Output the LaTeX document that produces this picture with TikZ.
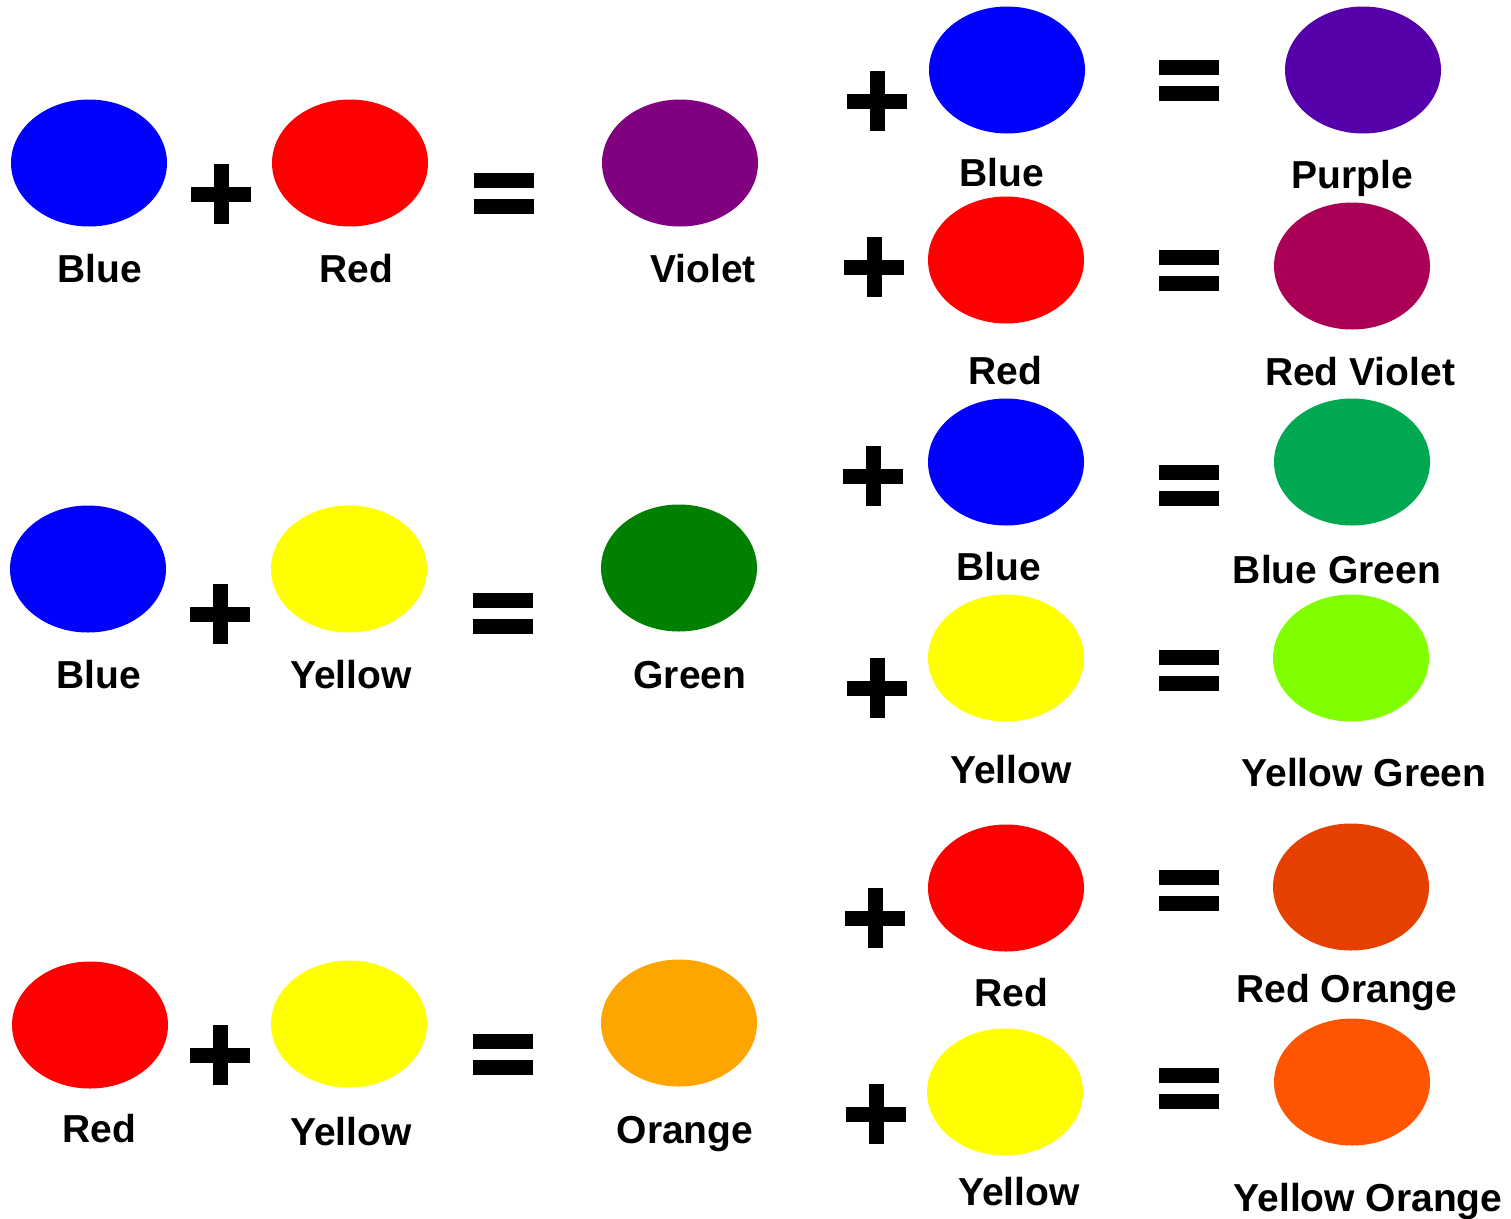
\documentclass[tikz,border=0pt]{standalone}
\usepackage{fontspec}
\setmainfont{Liberation Sans}
\usetikzlibrary{shapes.geometric}
\definecolor{cblue}{HTML}{0000FF}
\definecolor{cred}{HTML}{FF0000}
\definecolor{cyellow}{HTML}{FFFF00}
\definecolor{cviolet}{HTML}{800080}
\definecolor{cgreen}{HTML}{008000}
\definecolor{corange}{HTML}{FFA500}
\definecolor{cpurple}{HTML}{5500AA}
\definecolor{credviolet}{HTML}{AA0055}
\definecolor{cbluegreen}{HTML}{00A852}
\definecolor{cyellowgreen}{HTML}{80FF00}
\definecolor{credorange}{HTML}{E64000}
\definecolor{cyelloworange}{HTML}{FF5500}
\begin{document}
\begin{tikzpicture}[x=1pt,y=-1pt,
  blob/.style={ellipse, draw=none, inner sep=0pt, minimum width=156pt, minimum height=127pt},
  lbl/.style={anchor=base, inner sep=0pt, font=\fontsize{39}{47}\selectfont\bfseries},
  plussign/.pic={\fill[black] (-30,-7.5) rectangle (30,7.5); \fill[black] (-7.5,-30) rectangle (7.5,30);},
  eqsign/.pic={\fill[black] (-30,-20.5) rectangle (30,-5.5); \fill[black] (-30,5.5) rectangle (30,20.5);}
]
\useasboundingbox (0,0) rectangle (1511,1218);
% ---------- left column ----------
% row 1
\node[blob, fill=cblue] (a1) at (89,163) {};
\node[blob, fill=cred] (a2) at (350,163) {};
\node[blob, fill=cviolet] (a3) at (680,163) {};
\pic at (221,194) {plussign};
\pic at (504,193) {eqsign};
\node[lbl] (la1) at (100,282) {Blue};
\node[lbl] (la2) at (356,282) {Red};
\node[lbl] (la3) at (703,282) {Violet};
% row 2
\node[blob, fill=cblue] (b1) at (88,569) {};
\node[blob, fill=cyellow] (b2) at (349,569) {};
\node[blob, fill=cgreen] (b3) at (679,568) {};
\pic at (220,614) {plussign};
\pic at (503,613) {eqsign};
\node[lbl] (lb1) at (99,688) {Blue};
\node[lbl] (lb2) at (351,688) {Yellow};
\node[lbl] (lb3) at (690,688) {Green};
% row 3
\node[blob, fill=cred] (c1) at (90,1025) {};
\node[blob, fill=cyellow] (c2) at (349,1024) {};
\node[blob, fill=corange] (c3) at (679,1023) {};
\pic at (220,1055) {plussign};
\pic at (503,1054) {eqsign};
\node[lbl] (lc1) at (99,1142) {Red};
\node[lbl] (lc2) at (351,1145) {Yellow};
\node[lbl] (lc3) at (685,1143) {Orange};
% ---------- right column ----------
% r1
\pic at (877,101) {plussign};
\node[blob, fill=cblue] (r1a) at (1007,70) {};
\pic at (1189,80) {eqsign};
\node[blob, fill=cpurple] (r1b) at (1363,70) {};
\node[lbl] (lr1a) at (1002,186) {Blue};
\node[lbl] (lr1b) at (1352,188) {Purple};
% r2
\pic at (874,267) {plussign};
\node[blob, fill=cred] (r2a) at (1006,260) {};
\pic at (1189,270) {eqsign};
\node[blob, fill=credviolet] (r2b) at (1352,266) {};
\node[lbl] (lr2a) at (1005,384) {Red};
\node[lbl] (lr2b) at (1360,385) {Red Violet};
% r3
\pic at (873,476) {plussign};
\node[blob, fill=cblue] (r3a) at (1006,462) {};
\pic at (1189,485) {eqsign};
\node[blob, fill=cbluegreen] (r3b) at (1352,462) {};
\node[lbl] (lr3a) at (999,580) {Blue};
\node[lbl] (lr3b) at (1337,583) {Blue Green};
% r4
\pic at (877,688) {plussign};
\node[blob, fill=cyellow] (r4a) at (1006,658) {};
\pic at (1189,670) {eqsign};
\node[blob, fill=cyellowgreen] (r4b) at (1351,658) {};
\node[lbl] (lr4a) at (1011,783) {Yellow};
\node[lbl] (lr4b) at (1364,786) {Yellow Green};
% r5
\pic at (875,918) {plussign};
\node[blob, fill=cred] (r5a) at (1006,888) {};
\pic at (1189,890) {eqsign};
\node[blob, fill=credorange] (r5b) at (1351,887) {};
\node[lbl] (lr5a) at (1011,1006) {Red};
\node[lbl] (lr5b) at (1347,1002) {Red Orange};
% r6
\pic at (876,1114) {plussign};
\node[blob, fill=cyellow] (r6a) at (1005,1092) {};
\pic at (1189,1088) {eqsign};
\node[blob, fill=cyelloworange] (r6b) at (1352,1082) {};
\node[lbl] (lr6a) at (1019,1205) {Yellow};
\node[lbl] (lr6b) at (1368,1211) {Yellow Orange};
\end{tikzpicture}
\end{document}
